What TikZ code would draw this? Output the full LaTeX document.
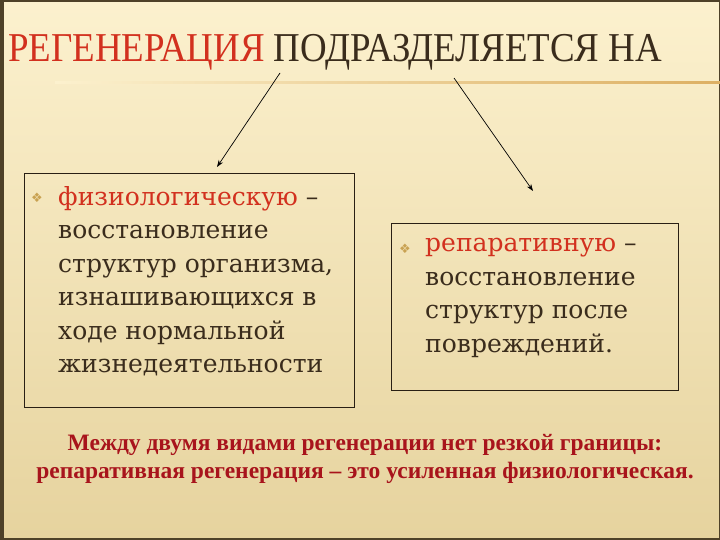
\documentclass[tikz,border=0pt]{standalone}
\usepackage{fontspec}
\setmainfont{Liberation Serif}
\newfontfamily\titlefont[FakeStretch=0.9]{Liberation Serif}
\newfontfamily\bodyfont{DejaVu Serif}
\newfontfamily\symfont{DejaVu Sans}
\usetikzlibrary{positioning, arrows.meta}
\definecolor{paper}{HTML}{FCF1CE}
\definecolor{paperlow}{HTML}{E6D39E}
\definecolor{frame}{HTML}{4E4128}
\definecolor{accent}{HTML}{D2301E}
\definecolor{ink}{HTML}{3A2C1C}
\definecolor{maroon}{HTML}{A8141C}
\definecolor{gold}{HTML}{C9A252}
\definecolor{rule}{HTML}{DDB063}
\def\Regen{РЕГЕНЕРАЦИЯ}
\def\Divides{ПОДРАЗДЕЛЯЕТСЯ НА}
\def\Phys{физиологическую}
\def\Repar{репаративную}
\tikzset{
    panel/.style={draw=ink!70!black, line width=0.8pt, inner sep=0pt},
    bodytext/.style={font=\bodyfont\fontsize{25}{33.5}\selectfont, text=ink, align=left, inner sep=0pt},
    bulletmark/.style={font=\symfont\fontsize{13}{13}\selectfont, text=gold, inner sep=0pt},
    branch/.style={-{Stealth[length=7pt, width=5pt]}, line width=0.7pt, black},
}

\begin{document}
\begin{tikzpicture}[x=1pt, y=-1pt]
    \useasboundingbox (0,0) rectangle (720,540);
    % background and frame
    \shade[top color=paper, bottom color=paperlow] (0,0) rectangle (720,540);
    \draw[frame, line width=4pt] (0,0) -- (720,0) (0,540) -- (720,540);
    \draw[frame, line width=7pt] (0,0) -- (0,540);
    \draw[frame, line width=2pt] (720,0) -- (720,540);
    \shade[left color=paper, right color=rule] (55,81.5) rectangle (720,83.5);

    % title
    \node[anchor=base west, inner sep=0pt, font=\titlefont\fontsize{41}{41}\selectfont, text=ink] (title)
        at (8,62) {\textcolor{accent}{\Regen} \Divides};

    % left box
    \node[panel, minimum width=330pt, minimum height=234pt, anchor=north west] (physbox) at (24,173) {};
    \node[bodytext, anchor=north west] (phystext) at (58,186) {\textcolor{accent}{\Phys} –\\
        восстановление\\ структур организма,\\ изнашивающихся в\\ ходе нормальной\\ жизнедеятельности};
    \node[bulletmark] (physmark) at (37,198) {❖};

    % right box
    \node[panel, minimum width=287pt, minimum height=167pt, anchor=north west] (reparbox) at (391,223) {};
    \node[bodytext, anchor=north west] (repartext) at (425,238) {\textcolor{accent}{\Repar} –\\
        восстановление\\ структур после\\ повреждений.};
    \node[bulletmark] (reparmark) at (405,249) {❖};

    % arrows
    \coordinate (physfrom) at (280,73);
    \coordinate (physto) at (217,167);
    \coordinate (reparfrom) at (454,78);
    \coordinate (reparto) at (533,191);
    \draw[branch] (physfrom) -- (physto);
    \draw[branch] (reparfrom) -- (reparto);

    % note
    \node[font=\bfseries\fontsize{23.5}{28.5}\selectfont, text=maroon, align=center, inner sep=0pt] (note)
        at (365,459) {Между двумя видами регенерации нет резкой границы:\\
        репаративная регенерация – это усиленная физиологическая.};
\end{tikzpicture}
\end{document}
